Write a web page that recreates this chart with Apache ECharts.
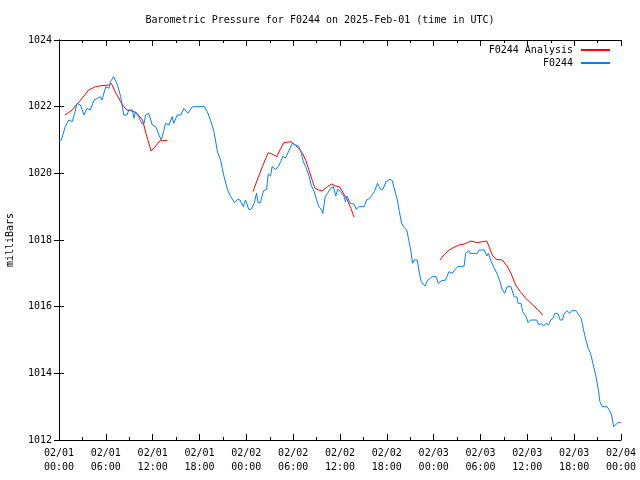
<!DOCTYPE html>
<html><head><meta charset="utf-8">
<script src="https://cdn.jsdelivr.net/npm/echarts@6/dist/echarts.min.js"></script>
<style>html,body{margin:0;padding:0;background:#fff}#c{width:640px;height:480px}</style>
</head><body><div id="c"></div>
<script>
// Hours since 2025-02-01 00:00 UTC
const obsHours = [0.0,0.3,0.8,1.26,1.7,2.0,2.3,2.75,3.2,3.6,4.0,4.5,4.9,5.3,5.5,6.0,6.4,6.6,7.0,7.5,7.9,8.3,8.7,8.95,9.4,9.6,9.8,10.2,10.6,10.9,11.1,11.5,11.95,12.4,12.8,13.1,13.4,13.65,14.1,14.5,14.7,15.15,15.6,16.0,16.2,16.5,17.1,18.6,19.0,19.4,19.85,20.3,20.7,21.1,21.6,22.0,22.5,22.85,23.2,23.6,23.9,24.3,24.6,25.0,25.3,25.5,25.8,26.2,26.6,26.8,27.1,27.3,27.75,28.1,28.4,28.7,29.0,29.5,29.9,30.3,30.7,31.05,31.3,31.6,32.0,32.3,32.7,33.0,33.3,33.6,33.8,34.1,34.4,34.8,35.15,35.45,35.7,36.1,36.5,36.7,36.9,37.3,37.8,38.1,38.4,39.1,39.4,39.8,40.4,40.8,41.2,41.5,41.9,42.4,42.7,43.0,43.35,43.6,43.9,44.2,44.55,44.85,45.1,45.3,45.5,45.9,46.1,46.4,46.9,47.2,47.4,47.8,48.3,48.6,49.0,49.55,49.95,50.2,50.4,50.75,51.1,51.9,52.1,52.5,52.7,53.6,53.8,54.5,54.8,55.0,55.3,55.7,56.1,56.5,56.8,57.1,57.4,57.9,58.3,58.7,58.8,59.2,59.4,59.8,60.1,60.4,61.2,61.5,61.8,62.1,62.4,62.7,63.0,63.3,63.5,63.9,64.2,64.5,64.7,65.1,65.4,65.7,66.2,66.4,66.9,67.2,67.5,67.8,68.1,68.4,68.8,69.1,69.3,69.6,70.2,70.5,70.8,71.05,71.3,71.6,72.0];
const obsValues = [1021.0,1021.0,1021.4,1021.6,1021.55,1021.8,1022.1,1022.05,1021.75,1021.95,1021.9,1022.2,1022.25,1022.3,1022.2,1022.6,1022.55,1022.75,1022.9,1022.65,1022.3,1021.75,1021.75,1021.9,1021.9,1021.65,1021.85,1021.7,1021.5,1021.5,1021.75,1021.8,1021.45,1021.4,1021.15,1021.0,1021.25,1021.5,1021.45,1021.7,1021.5,1021.75,1021.75,1021.95,1022.0,1021.8,1022.0,1022.0,1021.85,1021.6,1021.25,1020.65,1020.4,1019.95,1019.5,1019.3,1019.12,1019.22,1019.2,1019.0,1019.2,1018.92,1018.92,1019.1,1019.4,1019.12,1019.12,1019.48,1019.52,1019.98,1019.92,1020.2,1020.12,1020.2,1020.35,1020.52,1020.45,1020.7,1020.9,1020.85,1020.82,1020.6,1020.35,1020.2,1019.95,1019.65,1019.45,1019.2,1019.0,1018.92,1018.8,1019.3,1019.4,1019.55,1019.6,1019.32,1019.52,1019.45,1019.32,1019.15,1019.32,1019.1,1019.08,1018.92,1019.0,1019.0,1019.2,1019.25,1019.45,1019.7,1019.52,1019.52,1019.75,1019.82,1019.78,1019.5,1019.2,1018.85,1018.5,1018.38,1018.3,1017.95,1017.65,1017.3,1017.4,1017.4,1017.1,1016.75,1016.62,1016.78,1016.75,1016.9,1016.9,1016.7,1016.78,1016.8,1017.05,1017.1,1017.0,1017.12,1017.2,1017.22,1017.6,1017.68,1017.6,1017.6,1017.7,1017.7,1017.52,1017.6,1017.4,1017.18,1017.0,1016.75,1016.5,1016.4,1016.6,1016.6,1016.3,1016.28,1016.1,1016.1,1015.85,1015.72,1015.52,1015.6,1015.6,1015.45,1015.5,1015.42,1015.5,1015.45,1015.6,1015.65,1015.8,1015.8,1015.6,1015.6,1015.78,1015.88,1015.8,1015.88,1015.88,1015.82,1015.65,1015.3,1015.0,1014.75,1014.6,1014.3,1013.9,1013.5,1013.15,1013.0,1013.0,1012.9,1012.75,1012.4,1012.4,1012.52,1012.52];

const ana1Hours = [0.75,1.26,1.7,2.1,2.6,3.2,3.8,4.7,5.5,6.4,6.7,7.2,7.9,8.3,8.7,9.4,10.0,10.7,11.2,11.8,12.4,12.9,13.9];
const ana1Values = [1021.75,1021.83,1021.9,1022.03,1022.15,1022.32,1022.5,1022.6,1022.63,1022.65,1022.7,1022.45,1022.15,1022.0,1021.9,1021.87,1021.8,1021.6,1021.15,1020.67,1020.82,1020.97,1020.99];
const ana2Hours = [24.85,25.4,26.05,26.8,27.3,27.9,28.3,28.8,29.7,30.1,30.7,31.2,31.6,32.0,32.5,32.8,33.3,33.7,34.4,34.9,35.45,35.9,36.4,36.9,37.4,37.8];
const ana2Values = [1019.45,1019.8,1020.2,1020.62,1020.58,1020.5,1020.7,1020.92,1020.95,1020.88,1020.75,1020.6,1020.4,1020.12,1019.75,1019.55,1019.5,1019.47,1019.6,1019.68,1019.62,1019.6,1019.42,1019.22,1018.95,1018.68];
const ana3Hours = [48.8,49.3,50.0,50.6,51.25,51.9,52.8,53.6,54.25,54.8,55.1,55.5,56.0,56.8,57.4,57.9,58.5,59.1,59.8,60.7,61.4,61.95];
const ana3Values = [1017.4,1017.55,1017.7,1017.78,1017.85,1017.88,1017.97,1017.92,1017.95,1017.97,1017.8,1017.55,1017.42,1017.4,1017.22,1017.0,1016.65,1016.45,1016.25,1016.05,1015.9,1015.75];

const dayLabels = ['02/01','02/02','02/03','02/04'];
const titleText = 'Barometric Pressure for F0244 on 2025-Feb-01 (time in UTC)';

const FONT = 'DejaVu Sans Mono';
function zip(h, v){ return h.map((x,i)=>[x, v[i]]); }
const anaData = [].concat(zip(ana1Hours,ana1Values), [[19,null]], zip(ana2Hours,ana2Values), [[43,null]], zip(ana3Hours,ana3Values));
const obsData = zip(obsHours, obsValues);

function fmtX(h){
  const d = Math.floor(h/24), hr = Math.round(h - d*24);
  return dayLabels[d] + '\n' + (hr<10?'0':'') + hr + ':00';
}
const axisLine = {show:true, lineStyle:{color:'#000', width:1}};
const chart = echarts.init(document.getElementById('c'), null, {renderer:'canvas'});
chart.setOption({
  animation:false,
  backgroundColor:'#fff',
  textStyle:{fontFamily:FONT},
  title:{text:titleText, left:'center', top:10, textStyle:{fontFamily:FONT, fontSize:10, fontWeight:'normal', color:'#000'}},
  legend:{
    orient:'vertical', right:25, top:40, align:'right', itemGap:3,
    itemWidth:29, itemHeight:2, icon:'rect',
    textStyle:{fontFamily:FONT, fontSize:10, color:'#000', padding:[0,3,0,0]},
    data:['F0244 Analysis','F0244']
  },
  grid:{left:59, right:19, top:40, bottom:40, show:false, containLabel:false, outerBoundsMode:'none'},
  xAxis:[{
    type:'value', min:0, max:72, interval:6, position:'bottom',
    axisLine:axisLine,
    axisTick:{show:true, inside:true, length:6, lineStyle:{color:'#000'}},
    minorTick:{show:true, splitNumber:2, length:3, lineStyle:{color:'#000'}},
    axisLabel:{formatter:fmtX, fontFamily:FONT, fontSize:10, color:'#000', margin:6, lineHeight:14},
    splitLine:{show:false}
  },{
    type:'value', min:0, max:72, interval:6, position:'top',
    axisLine:axisLine,
    axisTick:{show:true, inside:true, length:6, lineStyle:{color:'#000'}},
    minorTick:{show:true, splitNumber:2, length:3, lineStyle:{color:'#000'}},
    axisLabel:{show:false}, splitLine:{show:false}
  }],
  yAxis:[{
    type:'value', min:1012, max:1024, interval:2, position:'left',
    name:'milliBars', nameLocation:'middle', nameRotate:90, nameGap:44,
    nameTextStyle:{fontFamily:FONT, fontSize:10, color:'#000'},
    axisLine:axisLine,
    axisTick:{show:true, inside:true, length:5, lineStyle:{color:'#000'}},
    axisLabel:{fontFamily:FONT, fontSize:10, color:'#000', margin:7, formatter:(v)=>String(v)},
    splitLine:{show:false}
  },{
    type:'value', min:1012, max:1024, interval:2, position:'right',
    axisLine:axisLine,
    axisTick:{show:true, inside:true, length:5, lineStyle:{color:'#000'}},
    axisLabel:{show:false}, splitLine:{show:false}
  }],
  series:[{
    name:'F0244 Analysis', type:'line', data:anaData, connectNulls:false,
    showSymbol:false, symbol:'none', color:'#ff0000',
    lineStyle:{color:'#ff0000', width:1}, xAxisIndex:0, yAxisIndex:0
  },{
    name:'F0244', type:'line', data:obsData,
    showSymbol:false, symbol:'none', color:'#0080ff',
    lineStyle:{color:'#0080ff', width:1}, xAxisIndex:0, yAxisIndex:0
  }]
});
</script></body></html>
